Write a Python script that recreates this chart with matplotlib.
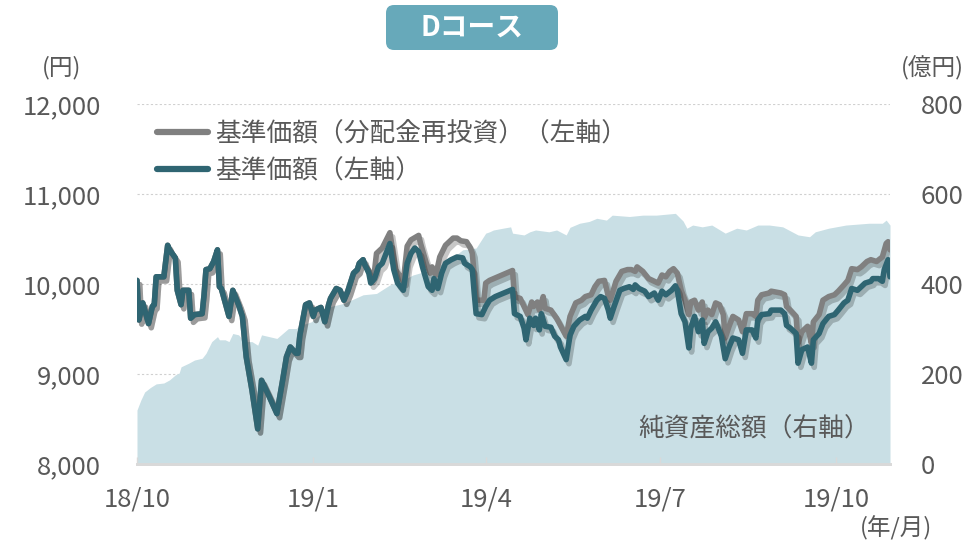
import matplotlib
matplotlib.use("Agg")
import matplotlib.pyplot as plt
import matplotlib.patheffects as pe
from matplotlib.lines import Line2D
from matplotlib.patches import FancyBboxPatch
import pandas as pd

plt.rcParams['font.family'] = ['Noto Sans CJK JP', 'DejaVu Sans']

START = pd.Timestamp("2018-10-01")

# NAV per unit (left axis), days counted from START
teal_day = [0, 1, 3, 6, 8, 9, 10, 14, 16, 17, 20, 21, 23, 24, 27, 28, 30, 34, 35, 36,
            38, 40, 42, 43, 44, 48, 50, 53, 55, 57, 60, 63, 65, 69, 73, 76, 78, 80, 83, 84,
            85, 88, 90, 92, 93, 96, 98, 100, 101, 104, 106, 108, 110, 113, 115, 116, 118, 119, 121, 122,
            124, 126, 128, 130, 132, 133, 134, 136, 139, 141, 143, 145, 147, 149, 152, 154, 155, 157, 159, 161,
            164, 167, 170, 171, 174, 175, 176, 177, 180, 182, 184, 187, 196, 197, 200, 202, 203, 205, 207, 208,
            210, 211, 213, 216, 218, 220, 221, 224, 226, 228, 231, 234, 235, 237, 240, 242, 244, 246, 247, 249,
            252, 254, 257, 259, 260, 262, 265, 267, 270, 272, 274, 276, 279, 281, 282, 284, 286, 288, 289, 291,
            293, 295, 296, 298, 300, 302, 303, 305, 307, 309, 311, 314, 316, 318, 321, 323, 324, 326, 330, 331,
            336, 338, 339, 341, 344, 345, 347, 350, 352, 353, 356, 358, 361, 364, 366, 369, 371, 373, 376, 378,
            380, 383, 384, 387, 389, 390, 392, 393]
teal_val = [10040, 9600, 9790, 9560, 9750, 9770, 10080, 10080, 10430, 10380, 10290, 9930, 9770, 9930, 9930, 9620, 9660, 9670, 9880, 10160,
            10170, 10250, 10380, 9970, 9950, 9640, 9930, 9770, 9640, 9190, 8820, 8390, 8930, 8750, 8560, 8930, 9190, 9300, 9230, 9230,
            9430, 9770, 9790, 9640, 9710, 9740, 9580, 9770, 9840, 9950, 9930, 9820, 9920, 10120, 10160, 10230, 10270, 10210, 10120, 10010,
            10060, 10190, 10230, 10340, 10450, 10300, 10160, 10010, 9930, 10230, 10340, 10400, 10360, 10190, 9970, 9930, 10060, 9950, 10120, 10230,
            10270, 10300, 10290, 10230, 10190, 10160, 9900, 9670, 9660, 9750, 9820, 9860, 9940, 9670, 9640, 9510, 9380, 9620, 9540, 9620,
            9490, 9670, 9530, 9520, 9420, 9380, 9300, 9160, 9430, 9530, 9600, 9640, 9620, 9710, 9820, 9860, 9840, 9710, 9620, 9750,
            9930, 9950, 9970, 9940, 9990, 9950, 9920, 9860, 9900, 9820, 9920, 9880, 9930, 9980, 9930, 9670, 9580, 9290, 9510, 9640,
            9470, 9600, 9340, 9470, 9510, 9580, 9530, 9420, 9170, 9300, 9400, 9380, 9230, 9490, 9490, 9400, 9600, 9660, 9670, 9710,
            9710, 9670, 9540, 9510, 9450, 9120, 9270, 9300, 9120, 9380, 9450, 9560, 9640, 9660, 9710, 9790, 9820, 9950, 9930, 9970,
            10010, 10030, 10060, 10060, 10030, 10160, 10270, 10080]

# NAV with dividends reinvested (left axis); same as above until the first payout
gray_day_after = [121, 122, 124, 125, 128, 132, 135, 139, 141, 143, 147, 148, 151, 153, 154, 156, 158, 161, 165, 167,
                  169, 172, 174, 175, 176, 177, 181, 182, 184, 196, 197, 200, 202, 204, 206, 207, 209, 210, 212, 213,
                  216, 219, 221, 224, 226, 229, 232, 234, 237, 239, 241, 244, 246, 247, 250, 253, 256, 258, 260, 261,
                  264, 267, 269, 272, 274, 276, 278, 280, 282, 284, 286, 288, 289, 291, 293, 295, 296, 298, 300, 302,
                  304, 306, 307, 309, 311, 314, 316, 318, 321, 323, 324, 326, 330, 331, 336, 338, 339, 341, 344, 345,
                  347, 350, 352, 353, 356, 358, 361, 364, 366, 369, 371, 373, 376, 378, 381, 383, 386, 389, 391, 392,
                  393]
gray_val_after = [10150, 10060, 10150, 10340, 10400, 10570, 10160, 10030, 10420, 10490, 10540, 10450, 10230, 10120, 10190, 10100, 10300, 10430, 10510, 10510,
                  10480, 10470, 10400, 10340, 10100, 9820, 9820, 10010, 10040, 10150, 9860, 9840, 9750, 9660, 9800, 9750, 9800, 9710, 9860, 9730,
                  9710, 9620, 9540, 9420, 9640, 9790, 9820, 9860, 9880, 9970, 10030, 10040, 9860, 9820, 10030, 10140, 10160, 10160, 10140, 10190,
                  10140, 10060, 10040, 10010, 10100, 10080, 10140, 10170, 10120, 9930, 9820, 9660, 9800, 9820, 9710, 9800, 9620, 9710, 9660, 9790,
                  9770, 9660, 9400, 9530, 9640, 9600, 9470, 9670, 9670, 9640, 9820, 9880, 9900, 9920, 9900, 9880, 9750, 9710, 9640, 9340,
                  9470, 9530, 9340, 9580, 9660, 9820, 9860, 9880, 9920, 9990, 10040, 10170, 10160, 10190, 10250, 10270, 10250, 10300, 10450, 10470,
                  10380]

# total net assets, 100 million yen (right axis)
nav_day = [0, 2, 4, 7, 10, 14, 17, 20, 22, 23, 27, 30, 34, 36, 39, 42, 43, 46, 48, 50,
           53, 56, 60, 63, 65, 69, 73, 76, 79, 83, 86, 91, 94, 101, 108, 118, 125, 132, 139, 144,
           153, 163, 170, 177, 182, 184, 186, 191, 195, 196, 202, 205, 208, 215, 219, 224, 226, 231, 236, 240,
           245, 248, 257, 264, 271, 281, 285, 287, 290, 295, 300, 307, 313, 318, 324, 330, 337, 345, 351, 354,
           361, 370, 382, 389, 391, 393]
nav_val = [120, 142, 160, 170, 178, 180, 187, 198, 202, 216, 224, 231, 235, 246, 272, 283, 276, 276, 272, 290,
           287, 272, 272, 264, 287, 283, 279, 290, 301, 301, 309, 316, 327, 350, 357, 376, 379, 398, 409, 420,
           431, 453, 476, 480, 513, 516, 520, 524, 527, 513, 509, 516, 520, 516, 520, 509, 526, 535, 539, 546,
           542, 553, 550, 553, 553, 557, 540, 524, 531, 527, 531, 513, 524, 520, 531, 531, 527, 509, 505, 516,
           524, 531, 535, 535, 542, 531]

tick_dates = ["2018-10-01", "2019-01-01", "2019-04-01", "2019-07-01", "2019-10-01"]
tick_labels = ["18/10", "19/1", "19/4", "19/7", "19/10"]

left_ticks = [8000, 9000, 10000, 11000, 12000]
right_ticks = [0, 200, 400, 600, 800]

# ---------------------------------------------------------------

def to_dates(days):
    return START + pd.to_timedelta(days, unit="D")

gray_day = [d for d in teal_day if d <= 119] + gray_day_after
gray_val = [v for d, v in zip(teal_day, teal_val) if d <= 119] + gray_val_after

TEXT = "#595959"
TEAL = "#2f6572"
GRAY = "#808080"
AREA = "#c9dfe5"

fig = plt.figure(figsize=(9.78, 5.47), dpi=100)
ax = fig.add_axes([137 / 978, 1 - 464 / 547, 753 / 978, 360 / 547])
ax2 = ax.twinx()
ax.set_zorder(ax2.get_zorder() + 1)
ax.patch.set_visible(False)

# area on the right axis
nav_dates = to_dates(nav_day)
ax2.fill_between(nav_dates, 0, nav_val, color=AREA, lw=0, zorder=2)
ax2.set_ylim(0, 800)
ax2.set_yticks(right_ticks)
ax2.set_yticklabels([f"{v}" for v in right_ticks])
ax2.grid(axis="y", color="#d0d0d0", ls=(0, (2, 2)), lw=0.8, zorder=1)
ax2.set_axisbelow(True)

shadow = [pe.SimpleLineShadow(offset=(2, -3), shadow_color="black", alpha=0.22), pe.Normal()]
ax.plot(to_dates(gray_day), gray_val, color=GRAY, lw=4, solid_joinstyle="round",
        solid_capstyle="round", path_effects=shadow)
ax.plot(to_dates(teal_day), teal_val, color=TEAL, lw=4, solid_joinstyle="round",
        solid_capstyle="round", path_effects=shadow)

ax.set_ylim(8000, 12000)
ax.set_yticks(left_ticks)
ax.set_yticklabels([f"{v:,}" for v in left_ticks])
ax.set_xlim(START, to_dates([393])[0])
ax.set_xticks(pd.to_datetime(tick_dates))
ax.set_xticklabels(tick_labels)

for a in (ax, ax2):
    for s in ("top", "left", "right"):
        a.spines[s].set_visible(False)
    a.spines["bottom"].set_color("#d9d9d9")
    a.spines["bottom"].set_linewidth(2)
ax.tick_params(axis="y", length=0, labelsize=18.5, labelcolor=TEXT, pad=26)
ax2.tick_params(axis="y", length=0, labelsize=18.5, labelcolor=TEXT, pad=22)
ax.tick_params(axis="x", direction="in", length=5, color="#d9d9d9", width=1,
               labelsize=18.5, labelcolor=TEXT, pad=16)
ax2.tick_params(axis="x", length=0)

handles = [Line2D([], [], color=GRAY, lw=4.5, solid_capstyle="round"),
           Line2D([], [], color=TEAL, lw=4.5, solid_capstyle="round")]
leg = ax.legend(handles, ["基準価額（分配金再投資）（左軸）", "基準価額（左軸）"],
                loc="upper left", bbox_to_anchor=(20 / 753, 0.952), frameon=False,
                borderpad=0, borderaxespad=0,
                fontsize=18.5, handlelength=2.0, handletextpad=0.25, labelspacing=0.42)
for t in leg.get_texts():
    t.set_color(TEXT)

ax.text(0.973, 0.095, "純資産総額（右軸）", transform=ax.transAxes, ha="right",
        va="center", fontsize=18.5, color=TEXT)

fig.text(62 / 978, 1 - 68 / 547, "(円)", ha="center", va="center", fontsize=17, color=TEXT)
fig.text(932 / 978, 1 - 68 / 547, "(億円)", ha="center", va="center", fontsize=17, color=TEXT)
fig.text(896 / 978, 1 - 528 / 547, "(年/月)", ha="center", va="center", fontsize=17, color=TEXT)

box = FancyBboxPatch((3.86, 4.97), 1.72, 0.45, boxstyle="round,pad=0,rounding_size=0.08",
                     transform=fig.dpi_scale_trans, facecolor="#67a9ba", edgecolor="none")
fig.patches.append(box)
fig.text(472 / 978, 1 - 28 / 547, "Dコース", ha="center", va="center", fontsize=20,
         fontweight="bold", color="white")

fig.savefig("out.png", dpi=100)
